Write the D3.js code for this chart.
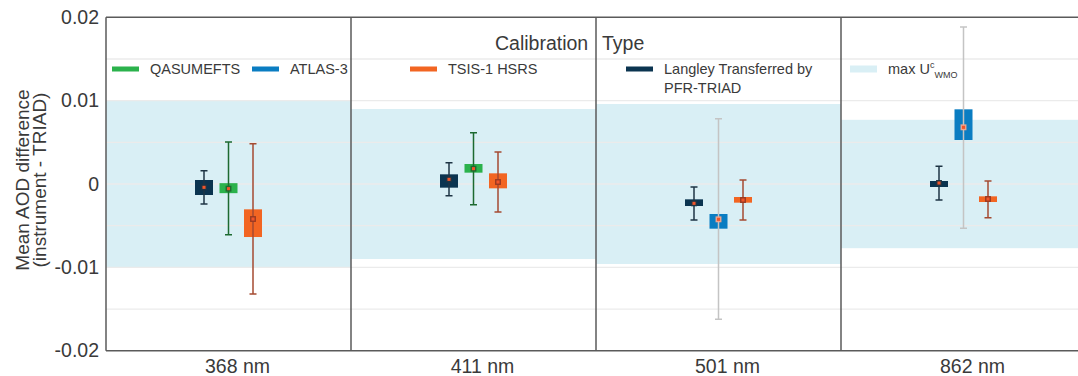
<!DOCTYPE html>
<html>
<head>
<meta charset="utf-8">
<script src="https://cdn.jsdelivr.net/npm/d3@7/dist/d3.min.js"></script>
<style>
  html, body { margin: 0; padding: 0; background: #fff; }
  svg { display: block; font-family: "Liberation Sans", Arial, sans-serif; }
  text { fill: #3a3a3a; }
</style>
</head>
<body>
<svg id="chart" width="1078" height="376"></svg>
<script>
// Wavelength panels and the WMO uncertainty limit for each
const wavelengths = ["368 nm", "411 nm", "501 nm", "862 nm"];
const wmoLimit = [0.01, 0.009, 0.0096, 0.0077];

// Y-axis ticks
const yTicks = [0.02, 0.01, 0, -0.01, -0.02];
const yTickLabels = ["0.02", "0.01", "0", "-0.01", "-0.02"];
const gridTicks = [0.015, 0.005, -0.005, -0.015];

// Calibration types: mean, box range and error-bar range per wavelength (null = not available)
const langleyMean  = [-0.0004, 0.00056, -0.00232, 0.00012];
const langleyBoxHi = [0.00048, 0.00116, -0.00184, 0.00036];
const langleyBoxLo = [-0.00132, -0.00044, -0.00264, -0.00036];
const langleyErrHi = [0.0016, 0.00256, -0.00036, 0.00212];
const langleyErrLo = [-0.0024, -0.0014, -0.00432, -0.00192];

const qasumeMean  = [-0.00056, 0.00184, null, null];
const qasumeBoxHi = [0.0001, 0.0024, null, null];
const qasumeBoxLo = [-0.0011, 0.00136, null, null];
const qasumeErrHi = [0.00504, 0.00616, null, null];
const qasumeErrLo = [-0.0061, -0.00248, null, null];

const atlasMean  = [null, null, -0.00424, 0.0068];
const atlasBoxHi = [null, null, -0.0036, 0.00896];
const atlasBoxLo = [null, null, -0.00536, 0.00528];
const atlasErrHi = [null, null, 0.00784, 0.01884];
const atlasErrLo = [null, null, -0.01624, -0.00532];

const tsisMean  = [-0.0042, 0.00024, -0.00192, -0.0018];
const tsisBoxHi = [-0.00304, 0.00128, -0.00156, -0.00148];
const tsisBoxLo = [-0.00636, -0.00052, -0.00224, -0.00216];
const tsisErrHi = [0.00484, 0.00384, 0.00048, 0.00036];
const tsisErrLo = [-0.0132, -0.00336, -0.00432, -0.00404];

const series = [
  { name: "QASUMEFTS", slot: "mid", color: "#2bb24c", err: "#1d6a30", mark: "#1d6a30",
    mean: qasumeMean, boxHi: qasumeBoxHi, boxLo: qasumeBoxLo, errHi: qasumeErrHi, errLo: qasumeErrLo },
  { name: "ATLAS-3", slot: "mid", color: "#0a7dc2", err: "#c4c4c4", mark: "#f0a58e",
    mean: atlasMean, boxHi: atlasBoxHi, boxLo: atlasBoxLo, errHi: atlasErrHi, errLo: atlasErrLo },
  { name: "TSIS-1 HSRS", slot: "right", color: "#f26522", err: "#a44a30", mark: "#9a3a22",
    mean: tsisMean, boxHi: tsisBoxHi, boxLo: tsisBoxLo, errHi: tsisErrHi, errLo: tsisErrLo },
  { name: "Langley Transferred by PFR-TRIAD", slot: "left", color: "#0b3450", err: "#1e3444", mark: "#1e3444",
    mean: langleyMean, boxHi: langleyBoxHi, boxLo: langleyBoxLo, errHi: langleyErrHi, errLo: langleyErrLo }
];

const svg = d3.select("#chart");
const plotLeft = 106, plotTop = 17.3, plotBottom = 350.7, plotRight = 1078, panelW = 245;

const x = d3.scaleBand().domain(wavelengths).range([plotLeft, plotLeft + panelW * wavelengths.length]);
const y = d3.scaleLinear().domain([-0.02, 0.02]).range([plotBottom, plotTop]);
const slot = d3.scalePoint().domain(["left", "mid", "right"]).range([-24.5, 24.5]);

const plot = svg.append("g");
svg.append("clipPath").attr("id", "plotClip")
  .append("rect").attr("x", plotLeft).attr("y", plotTop)
  .attr("width", plotRight - plotLeft).attr("height", plotBottom - plotTop);
const inner = plot.append("g").attr("clip-path", "url(#plotClip)");

// WMO uncertainty band per panel
inner.selectAll("rect.band").data(wavelengths).join("rect")
  .attr("class", "band")
  .attr("x", d => x(d)).attr("width", x.bandwidth())
  .attr("y", (d, i) => y(wmoLimit[i])).attr("height", (d, i) => y(-wmoLimit[i]) - y(wmoLimit[i]))
  .attr("fill", "#d9eff5");

// Horizontal gridlines
inner.selectAll("line.grid").data(gridTicks.concat(yTicks.slice(1, 4))).join("line")
  .attr("class", "grid")
  .attr("x1", plotLeft).attr("x2", plotRight)
  .attr("y1", d => y(d)).attr("y2", d => y(d))
  .attr("stroke", "#ebebeb").attr("stroke-width", 1.3);

// Boxes, error bars and mean markers
const boxW = 18, capW = 7, markS = 4.5;
series.forEach(s => {
  const items = wavelengths.map((w, i) => ({ w, i })).filter(d => s.mean[d.i] !== null);
  const cx = d => x(d.w) + x.bandwidth() / 2 + slot(s.slot);
  const g = inner.append("g");
  g.selectAll("rect.box").data(items).join("rect")
    .attr("x", d => cx(d) - boxW / 2).attr("width", boxW)
    .attr("y", d => y(s.boxHi[d.i])).attr("height", d => y(s.boxLo[d.i]) - y(s.boxHi[d.i]))
    .attr("fill", s.color);
  g.selectAll("line.whisker").data(items).join("line")
    .attr("x1", cx).attr("x2", cx)
    .attr("y1", d => y(s.errHi[d.i])).attr("y2", d => y(s.errLo[d.i]))
    .attr("stroke", s.err).attr("stroke-width", 1.5);
  ["errHi", "errLo"].forEach(k => {
    g.selectAll("line.cap" + k).data(items).join("line")
      .attr("x1", d => cx(d) - capW / 2).attr("x2", d => cx(d) + capW / 2)
      .attr("y1", d => y(s[k][d.i])).attr("y2", d => y(s[k][d.i]))
      .attr("stroke", s.err).attr("stroke-width", 1.5);
  });
  g.selectAll("rect.mark").data(items).join("rect")
    .attr("x", d => cx(d) - markS / 2).attr("width", markS)
    .attr("y", d => y(s.mean[d.i]) - markS / 2).attr("height", markS)
    .attr("fill", "#f0552a").attr("stroke", s.mark).attr("stroke-width", 1.4);
});

// Frame and panel separators
const frame = plot.append("g").attr("stroke", "#5a5a5a").attr("stroke-width", 1.5);
frame.append("line").attr("x1", plotLeft).attr("x2", plotRight).attr("y1", plotTop).attr("y2", plotTop);
frame.append("line").attr("x1", plotLeft).attr("x2", plotRight).attr("y1", plotBottom).attr("y2", plotBottom);
frame.selectAll("line.sep").data(wavelengths).join("line")
  .attr("x1", d => x(d)).attr("x2", d => x(d)).attr("y1", plotTop).attr("y2", plotBottom);

// Y axis
const yAxis = d3.axisLeft(y).tickValues(yTicks).tickSize(0).tickPadding(7)
  .tickFormat((d, i) => yTickLabels[i]);
const yg = svg.append("g").attr("transform", `translate(${plotLeft},0)`).call(yAxis);
yg.select(".domain").remove();
yg.selectAll("text").attr("font-size", 19.5).attr("fill", "#3a3a3a")
  .attr("font-family", "Liberation Sans, Arial, sans-serif");

// X axis (wavelength labels)
const xAxis = d3.axisBottom(x).tickSize(0).tickPadding(0);
const xg = svg.append("g").attr("transform", `translate(9,${plotBottom + 8})`).call(xAxis);
xg.select(".domain").remove();
xg.selectAll("text").attr("font-size", 19.5).attr("fill", "#3a3a3a")
  .attr("font-family", "Liberation Sans, Arial, sans-serif");

// Y axis title
const yTitle = svg.append("text").attr("transform", "translate(0,180) rotate(-90)")
  .attr("text-anchor", "middle").attr("font-size", 19);
yTitle.append("tspan").attr("x", 0).attr("y", 29).text("Mean AOD difference");
yTitle.append("tspan").attr("x", 0).attr("y", 46).text("(instrument - TRIAD)");

// Legend title
const legendTitle = svg.append("text").attr("y", 50).attr("font-size", 19.5);
legendTitle.append("tspan").attr("x", 495).text("Calibration");
legendTitle.append("tspan").attr("x", 602).text("Type");

// Legend entries
const legend = [
  { label: "QASUMEFTS", color: "#2bb24c", x: 112, h: 5 },
  { label: "ATLAS-3", color: "#0a7dc2", x: 252, h: 5 },
  { label: "TSIS-1 HSRS", color: "#f26522", x: 410, h: 5 },
  { label: "Langley Transferred by", color: "#0b3450", x: 626, h: 5 },
  { label: "max U", color: "#d9eff5", x: 850, h: 7 }
];
const lg = svg.append("g");
legend.forEach(it => {
  lg.append("rect").attr("x", it.x).attr("y", 69 - it.h / 2).attr("width", 27).attr("height", it.h).attr("fill", it.color);
  const t = lg.append("text").attr("x", it.x + 38).attr("y", 74).attr("font-size", 14.5).text(it.label);
  if (it.label === "max U") {
    t.append("tspan").attr("font-size", 9).attr("dy", -6).text("c");
    t.append("tspan").attr("font-size", 9).attr("dy", 10).text("WMO");
  }
});
lg.append("text").attr("x", 664).attr("y", 93).attr("font-size", 14.5).text("PFR-TRIAD");
</script>
</body>
</html>
